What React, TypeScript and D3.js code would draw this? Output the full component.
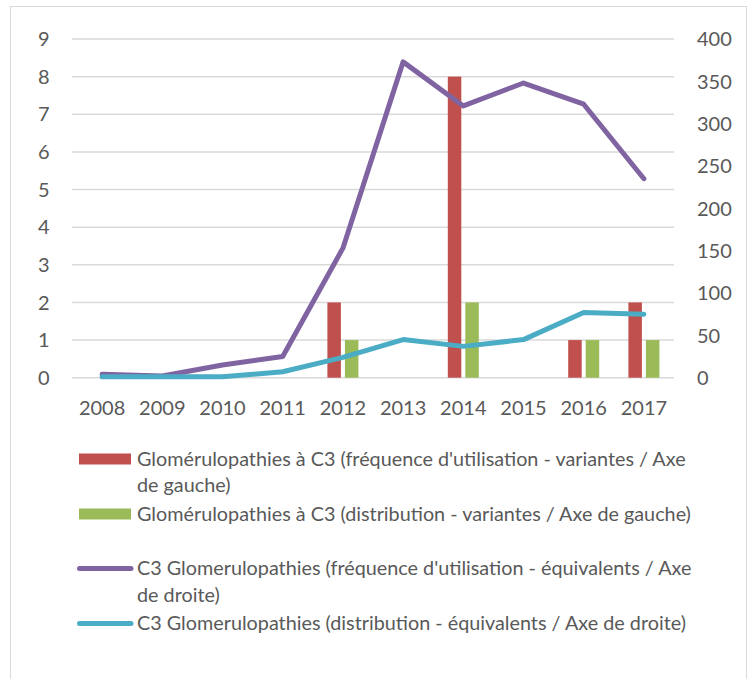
import React from 'react';
import * as d3 from 'd3';

const years = ['2008', '2009', '2010', '2011', '2012', '2013', '2014', '2015', '2016', '2017'];
const variantesFreq = [0, 0, 0, 0, 2, 0, 8, 0, 1, 2];
const variantesDist = [0, 0, 0, 0, 1, 0, 2, 0, 1, 1];
const equivFreq = [4, 2, 15, 25, 153, 373, 321, 348, 323, 235];
const equivDist = [1, 1, 1, 7, 24, 45, 37, 45, 77, 75];
const leftTicks = [0, 1, 2, 3, 4, 5, 6, 7, 8, 9];
const rightTicks = [0, 50, 100, 150, 200, 250, 300, 350, 400];

const legendItems = [
  { kind: 'bar', color: '#C0504D', lines: ["Glomérulopathies à C3 (fréquence d'utilisation - variantes / Axe", 'de gauche)'] },
  { kind: 'bar', color: '#9BBB59', lines: ['Glomérulopathies à C3 (distribution - variantes / Axe de gauche)'] },
  { kind: 'line', color: '#8064A2', lines: ["C3 Glomerulopathies (fréquence d'utilisation - équivalents / Axe", 'de droite)'] },
  { kind: 'line', color: '#4BACC6', lines: ['C3 Glomerulopathies (distribution - équivalents / Axe de droite)'] },
];
const legendY = [459, 514, 568.5, 623.5];

const W = 753;
const H = 679;
const plotLeft = 72;
const plotRight = 674;
const plotTop = 39;
const plotBottom = 377.7;
const font = 'Lato, "Noto Sans", sans-serif';
const textColor = '#595959';

export default function App() {
  const x = d3.scaleBand<string>().domain(years).range([plotLeft, plotRight]).padding(0);
  const inner = d3.scaleBand<string>().domain(['a', 'b']).range([-15.5, 15.5]).paddingInner(0.23);
  const yL = d3.scaleLinear().domain([0, 9]).range([plotBottom, plotTop]);
  const yR = d3.scaleLinear().domain([0, 400]).range([plotBottom, plotTop]);
  const cx = (y: string) => (x(y) as number) + x.bandwidth() / 2;

  const line = (vals: number[]) =>
    d3
      .line<number>()
      .x((_, i) => cx(years[i]))
      .y((v) => yR(v))(vals) as string;

  const bars = [
    { key: 'a', vals: variantesFreq, color: '#C0504D' },
    { key: 'b', vals: variantesDist, color: '#9BBB59' },
  ];

  return (
    <svg width={W} height={H} style={{ position: 'absolute', left: 0, top: 0 }} fontFamily={font}>
      <rect x={0} y={0} width={W} height={H} fill="#fff" />
      <rect x={10.5} y={6.5} width={736} height={H + 20} fill="none" stroke="#d9d9d9" strokeWidth={1} />
      {leftTicks.map((t) => (
        <line key={'g' + t} x1={plotLeft} x2={plotRight} y1={yL(t)} y2={yL(t)} stroke="#d9d9d9" strokeWidth={1.5} />
      ))}
      {leftTicks.map((t) => (
        <text key={'l' + t} x={49.5} y={yL(t)} dy="0.36em" textAnchor="end" fontSize={20} fill={textColor}>
          {t}
        </text>
      ))}
      {rightTicks.map((t) => (
        <text key={'r' + t} x={697} y={yR(t)} dy="0.36em" textAnchor="start" fontSize={20} fill={textColor}>
          {t}
        </text>
      ))}
      {years.map((yr) => (
        <text key={'x' + yr} x={cx(yr)} y={408} dy="0.36em" textAnchor="middle" fontSize={20} fill={textColor}>
          {yr}
        </text>
      ))}
      {bars.map((b) =>
        b.vals.map((v, i) =>
          v > 0 ? (
            <rect
              key={b.key + i}
              x={cx(years[i]) + (inner(b.key) as number)}
              y={yL(v)}
              width={inner.bandwidth()}
              height={yL(0) - yL(v)}
              fill={b.color}
            />
          ) : null
        )
      )}
      <path d={line(equivFreq)} fill="none" stroke="#8064A2" strokeWidth={5} strokeLinejoin="round" strokeLinecap="round" />
      <path d={line(equivDist)} fill="none" stroke="#4BACC6" strokeWidth={5} strokeLinejoin="round" strokeLinecap="round" />
      {legendItems.map((it, i) => {
        const yc = legendY[i];
        return (
          <g key={'lg' + i}>
            {it.kind === 'bar' ? (
              <rect x={79} y={yc - 5.5} width={52} height={11} fill={it.color} />
            ) : (
              <line x1={79.5} x2={131} y1={yc} y2={yc} stroke={it.color} strokeWidth={5} strokeLinecap="round" />
            )}
            {it.lines.map((ln, j) => (
              <text key={j} x={137} y={yc + 6.5 + j * 26.5} fontSize={19.8} fill={textColor}>
                {ln}
              </text>
            ))}
          </g>
        );
      })}
    </svg>
  );
}
